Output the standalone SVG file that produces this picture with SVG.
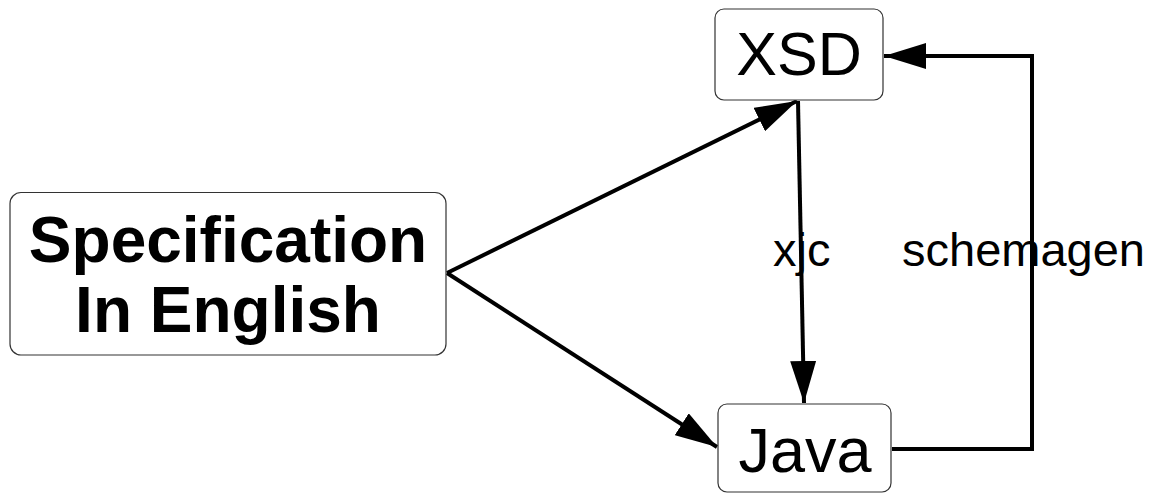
<svg xmlns="http://www.w3.org/2000/svg" width="1150" height="493" viewBox="0 0 1150 493">
<style>
.box{fill:#fff;stroke:#333;stroke-width:1.2}
.t{font-family:"Liberation Sans",Arial,sans-serif;fill:#000}
.c{fill:none;stroke:#000;stroke-width:4}
</style>
<defs>
<marker id="ah" viewBox="0 0 42 26" refX="42" refY="13" markerWidth="42" markerHeight="26" markerUnits="userSpaceOnUse" orient="auto">
<path d="M0,0 L42,13 L0,26 Z" fill="#000"/>
</marker>
</defs>
<rect width="1150" height="493" fill="#fff"/>
<g id="labels">
<text class="t" x="773" y="266" font-size="47">xjc</text>
<text class="t" x="902" y="266" font-size="47">schemagen</text>
</g>
<g id="connectors">
<path class="c" d="M447,273 L797,101" marker-end="url(#ah)"/>
<path class="c" d="M447,273 L717,447" marker-end="url(#ah)"/>
<path class="c" d="M798,101 L804,403" marker-end="url(#ah)"/>
<path class="c" d="M892,449 L1032,449 L1032,56 L884,56" marker-end="url(#ah)"/>
</g>
<g id="spec">
<rect class="box" x="10" y="192.5" width="436" height="162.5" rx="11"/>
<text class="t" x="228" y="262" font-size="64" font-weight="bold" text-anchor="middle">Specification</text>
<text class="t" x="228" y="332" font-size="64" font-weight="bold" text-anchor="middle">In English</text>
</g>
<g id="xsd">
<rect class="box" x="715" y="9" width="168" height="91" rx="9"/>
<text class="t" x="799" y="75" font-size="61" text-anchor="middle">XSD</text>
</g>
<g id="java">
<rect class="box" x="718" y="404" width="173" height="88" rx="9"/>
<text class="t" x="805" y="472" font-size="63" text-anchor="middle">Java</text>
</g>
</svg>
